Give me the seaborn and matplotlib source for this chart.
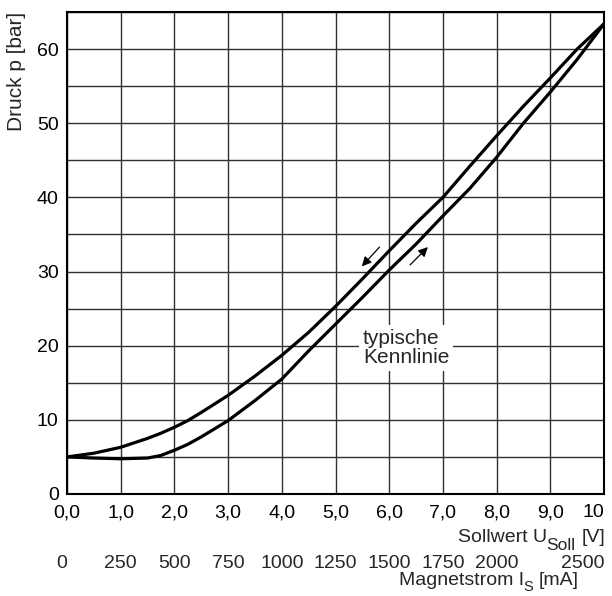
import numpy as np
import pandas as pd
import matplotlib
matplotlib.use("Agg")
import matplotlib.pyplot as plt
from matplotlib.ticker import MultipleLocator
import seaborn as sns

# ---- data ----
sollwert_v = [0.0, 0.5, 1.0, 1.5, 1.75, 2.0, 2.25, 2.5, 3.0, 3.5, 4.0, 4.5, 5.0,
              5.5, 6.0, 6.5, 7.0, 7.5, 8.0, 8.5, 9.0, 9.5, 10.0]
druck_fallend = [5.0, 5.5, 6.3, 7.5, 8.2, 9.0, 9.9, 11.0, 13.3, 15.9, 18.7, 21.8, 25.3,
                 29.0, 32.8, 36.5, 40.0, 44.2, 48.3, 52.3, 56.1, 60.0, 63.4]
druck_steigend = [5.0, 4.85, 4.75, 4.85, 5.2, 5.9, 6.7, 7.7, 9.9, 12.6, 15.5, 19.3, 22.9,
                  26.5, 30.2, 33.7, 37.5, 41.2, 45.4, 50.0, 54.2, 58.6, 63.4]

x_ticks = [0, 1, 2, 3, 4, 5, 6, 7, 8, 9, 10]
x_ticklabels = ["0,0", "1,0", "2,0", "3,0", "4,0", "5,0", "6,0", "7,0", "8,0", "9,0", "10"]
y_ticks = [0, 10, 20, 30, 40, 50, 60]
ma_ticks = [0, 250, 500, 750, 1000, 1250, 1500, 1750, 2000, 2500]
ma_ticklabels = ["0", "250", "500", "750", "1000", "1250", "1500", "1750", "2000", "2500"]

df_fall = pd.DataFrame({"U": sollwert_v, "p": druck_fallend})
df_steig = pd.DataFrame({"U": sollwert_v, "p": druck_steigend})

# ---- style ----
sns.set_style("white")
plt.rcParams["font.family"] = ["Liberation Sans", "DejaVu Sans"]

FS = 14

fig = plt.figure(figsize=(6.12, 5.96), dpi=100)
ax = fig.add_axes([67 / 612, (596 - 494) / 596, (604 - 67) / 612, (494 - 12) / 596])

sns.lineplot(data=df_fall, x="U", y="p", sort=False, color="black", lw=2.3,
             ax=ax, solid_capstyle="round", solid_joinstyle="round", zorder=3)
sns.lineplot(data=df_steig, x="U", y="p", sort=False, color="black", lw=2.3,
             ax=ax, solid_capstyle="round", solid_joinstyle="round", zorder=3)

ax.set_xlim(0, 10)
ax.set_ylim(0, 65)
ax.set_xticks(x_ticks)
ax.set_xticklabels(x_ticklabels)
ax.set_yticks(y_ticks)
ax.yaxis.set_minor_locator(MultipleLocator(5))
ax.grid(True, which="both", color="#303030", lw=1.0)
ax.set_axisbelow(True)
ax.tick_params(axis="both", which="both", length=0, labelsize=FS, colors="black")
ax.tick_params(axis="x", pad=7.5)
ax.tick_params(axis="y", pad=6)
xl = ax.get_xticklabels()
xl[-1].set_ha("right")
for s in ax.spines.values():
    s.set_color("black")
    s.set_linewidth(1.5)

ax.set_xlabel("")
ax.set_ylabel("Druck p [bar]", fontsize=15, loc="top")
ax.yaxis.set_label_coords(-0.077, 1.0)

# ---- second scale: Magnetstrom ----
sec = ax.secondary_xaxis(-61 / 482, functions=(lambda v: v * 250, lambda m: m / 250))
sec.set_xticks(ma_ticks)
sec.set_xticklabels(ma_ticklabels)
sec.tick_params(length=0, pad=0, labelsize=FS)
sec.spines["bottom"].set_visible(False)
stl = sec.get_xticklabels()
stl[0].set_ha("right")
stl[-1].set_ha("right")

# ---- axis titles with subscripts ----
pt = 0.72
t3 = ax.annotate("[V]", xy=(1, 0), xycoords="axes fraction",
                 xytext=(1 * pt, -48 * pt), textcoords="offset points",
                 ha="right", va="baseline", fontsize=FS)
t2 = ax.annotate("Soll", xy=(0, 0), xycoords=t3, xytext=(-4, -5),
                 textcoords="offset points", ha="right", va="bottom", fontsize=12.5)
t1 = ax.annotate("Sollwert U", xy=(0, 0), xycoords=t2, xytext=(0, 5),
                 textcoords="offset points", ha="right", va="bottom", fontsize=FS)

m3 = ax.annotate("[mA]", xy=(1, 0), xycoords="axes fraction",
                 xytext=(-25 * pt, -91 * pt), textcoords="offset points",
                 ha="right", va="baseline", fontsize=FS)
m2 = ax.annotate("S", xy=(0, 0), xycoords=m3, xytext=(-4, -3.5),
                 textcoords="offset points", ha="right", va="bottom", fontsize=10.5)
m1 = ax.annotate("Magnetstrom I", xy=(0, 0), xycoords=m2, xytext=(0, 3.5),
                 textcoords="offset points", ha="right", va="bottom", fontsize=FS)

# ---- annotation ----
ax.text(5.51, 19.7, "typische\nKennlinie", ha="left", va="center", fontsize=15,
        linespacing=1.0, zorder=4,
        bbox=dict(facecolor="white", edgecolor="none", pad=3))

arrow_kw = dict(arrowstyle="-|>", color="black", lw=0.9, mutation_scale=14,
                shrinkA=0, shrinkB=0)
ax.annotate("", xy=(5.49, 30.7), xytext=(5.82, 33.3), arrowprops=arrow_kw, zorder=5)
ax.annotate("", xy=(6.72, 33.3), xytext=(6.39, 30.9), arrowprops=arrow_kw, zorder=5)

fig.savefig("out.png", dpi=100)
